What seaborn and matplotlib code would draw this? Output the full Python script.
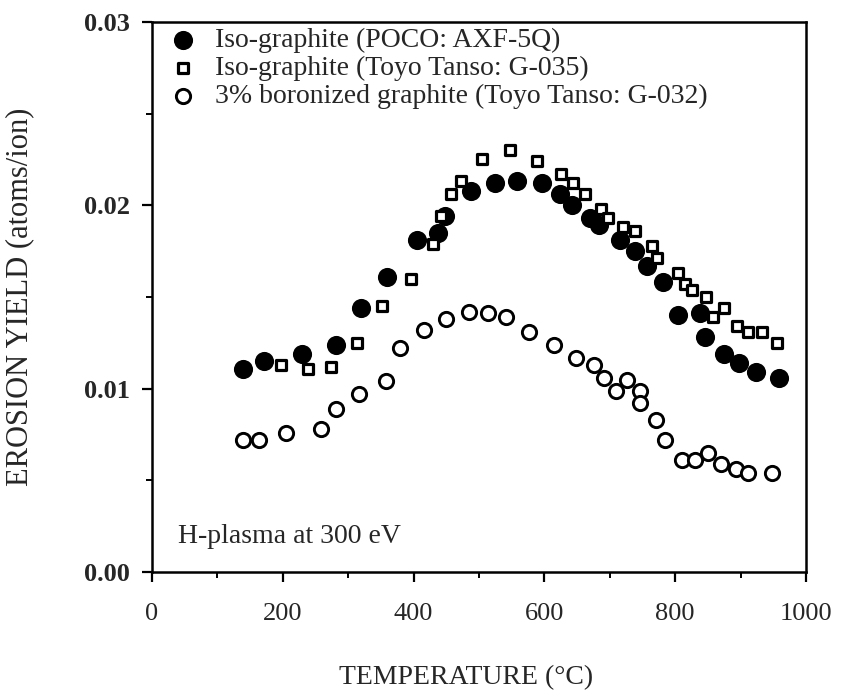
import matplotlib
matplotlib.use("Agg")
import matplotlib.pyplot as plt
from matplotlib.ticker import MultipleLocator, FormatStrFormatter
import seaborn as sns

# Iso-graphite (POCO: AXF-5Q), filled circles
poco_temp = [139, 172, 230, 282, 320, 359, 405, 437, 448, 488, 525, 558, 596, 624,
             642, 670, 683, 716, 738, 757, 781, 804, 838, 845, 875, 897, 924, 958]
poco_yield = [0.0111, 0.0115, 0.0119, 0.0124, 0.0144, 0.0161, 0.0181, 0.0185, 0.0194,
              0.0208, 0.0212, 0.0213, 0.0212, 0.0206, 0.0200, 0.0193, 0.0189, 0.0181,
              0.0175, 0.0167, 0.0158, 0.0140, 0.0141, 0.0128, 0.0119, 0.0114, 0.0109,
              0.0106]

# Iso-graphite (Toyo Tanso: G-035), squares
toyo_temp = [197, 239, 274, 313, 351, 396, 429, 442, 457, 473, 504, 547, 589, 625, 644,
             662, 687, 698, 720, 738, 764, 772, 805, 815, 825, 847, 858, 875, 894, 912,
             932, 955]
toyo_yield = [0.0113, 0.0111, 0.0112, 0.0125, 0.0145, 0.0160, 0.0179, 0.0194, 0.0206,
              0.0213, 0.0225, 0.0230, 0.0224, 0.0217, 0.0212, 0.0206, 0.0198, 0.0193,
              0.0188, 0.0186, 0.0178, 0.0171, 0.0163, 0.0157, 0.0154, 0.0150, 0.0139,
              0.0144, 0.0134, 0.0131, 0.0131, 0.0125]

# 3% boronized graphite (Toyo Tanso: G-032), open circles
boron_temp = [140, 164, 205, 258, 282, 317, 358, 379, 416, 450, 485, 514, 542, 577, 615,
              648, 676, 691, 709, 726, 746, 746, 770, 785, 810, 830, 850, 870, 893, 912,
              948]
boron_yield = [0.0072, 0.0072, 0.0076, 0.0078, 0.0089, 0.0097, 0.0104, 0.0122, 0.0132,
               0.0138, 0.0142, 0.0141, 0.0139, 0.0131, 0.0124, 0.0117, 0.0113, 0.0106,
               0.0099, 0.0105, 0.0099, 0.0092, 0.0083, 0.0072, 0.0061, 0.0061, 0.0065,
               0.0059, 0.0056, 0.0054, 0.0054]

labels = ["Iso-graphite (POCO: AXF-5Q)",
          "Iso-graphite (Toyo Tanso: G-035)",
          "3% boronized graphite (Toyo Tanso: G-032)"]

sns.set_style("ticks")
plt.rcParams['font.family'] = ['Liberation Serif', 'DejaVu Serif']

fig = plt.figure(figsize=(8.44, 6.98), dpi=100)
ax = fig.add_axes([0.180, 0.1805, 0.775, 0.788])

sns.scatterplot(x=poco_temp, y=poco_yield, ax=ax, marker="o", s=190,
                color="black", edgecolor="black", linewidth=0, label=labels[0])
sns.scatterplot(x=toyo_temp, y=toyo_yield, ax=ax, marker="s", s=42,
                color="white", edgecolor="black", linewidth=2.3, label=labels[1])
sns.scatterplot(x=boron_temp, y=boron_yield, ax=ax, marker="o", s=105,
                color="white", edgecolor="black", linewidth=2.1, label=labels[2])

ax.set_xlim(0, 1000)
ax.set_ylim(0, 0.03)
ax.xaxis.set_major_locator(MultipleLocator(200))
ax.xaxis.set_minor_locator(MultipleLocator(100))
ax.yaxis.set_major_locator(MultipleLocator(0.01))
ax.yaxis.set_minor_locator(MultipleLocator(0.005))
ax.yaxis.set_major_formatter(FormatStrFormatter("%.2f"))

for side in ["left", "right", "top", "bottom"]:
    ax.spines[side].set_linewidth(1.8)
    ax.spines[side].set_color("black")
ax.tick_params(which="major", direction="out", length=7, width=1.6,
               labelsize=19, color="black")
ax.tick_params(which="minor", direction="out", length=4, width=1.4, color="black")
ax.tick_params(axis="x", which="major", pad=15)
ax.tick_params(axis="y", which="major", pad=9)
for lab in ax.get_yticklabels():
    lab.set_fontweight("bold")

ax.set_xlabel("TEMPERATURE (°C)", fontsize=20)
ax.xaxis.set_label_coords(0.48, -0.17)
ax.set_ylabel("EROSION YIELD (atoms/ion)", fontsize=22)
ax.yaxis.set_label_coords(-0.18, 0.5)

ax.text(0.04, 0.064, "H-plasma at 300 eV", transform=ax.transAxes,
        fontsize=20, va="center", ha="left")

ax.legend(loc="upper left", bbox_to_anchor=(0.028, 0.99), frameon=False,
          fontsize=20, handlelength=0.9, handletextpad=0.7, labelspacing=0.1,
          borderpad=0, borderaxespad=0, scatterpoints=1)

fig.savefig("out.png", dpi=100)
